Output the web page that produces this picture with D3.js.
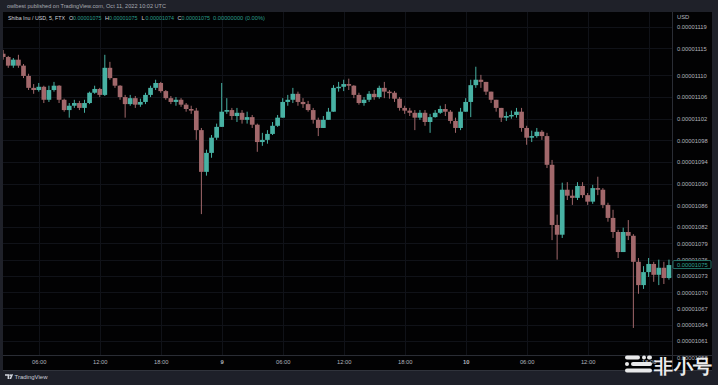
<!DOCTYPE html>
<html>
<head>
<meta charset="utf-8">
<script src="https://cdn.jsdelivr.net/npm/d3@7"></script>
<style>
html, body { margin: 0; padding: 0; background: #1f2129; }
svg { display: block; }
text { font-family: "Liberation Sans", Arial, sans-serif; }
</style>
</head>
<body>
<svg id="chart" width="718" height="385"></svg>
<script>
// prices are in units of 1e-8 USD (1110 -> 0.00001110), 30 minute bars
var firstOpen = 1114.0;
var closes = [
  1113.4, 1111.8, 1112.9, 1111.8, 1109.9, 1107.7, 1107.3, 1107.9, 1105.5, 1107.3,
  1108.1, 1105.5, 1103.6, 1104.4, 1104.9, 1104.0, 1104.9, 1106.8, 1107.5, 1106.4,
  1111.4, 1109.5, 1108.1, 1106.0, 1104.7, 1105.8, 1104.6, 1105.1, 1106.4, 1107.7,
  1108.6, 1107.1, 1105.8, 1105.1, 1105.5, 1104.6, 1103.8, 1103.5, 1099.9, 1092.2,
  1095.7, 1098.5, 1100.5, 1103.3, 1103.6, 1102.5, 1103.1, 1101.8, 1102.3, 1100.9,
  1097.7, 1098.1, 1099.2, 1100.7, 1102.2, 1105.1, 1105.5, 1106.6, 1105.1, 1104.7,
  1103.6, 1101.8, 1100.3, 1101.8, 1103.3, 1107.7, 1107.9, 1108.4, 1108.1, 1106.4,
  1104.9, 1105.5, 1106.6, 1106.0, 1107.7, 1107.0, 1106.8, 1105.7, 1104.0, 1103.5,
  1103.1, 1102.2, 1103.1, 1101.4, 1102.3, 1103.1, 1103.8, 1103.3, 1101.6, 1100.3,
  1103.3, 1105.1, 1108.2, 1109.2, 1108.8, 1107.0, 1105.5, 1104.0, 1102.2, 1102.5,
  1102.7, 1103.3, 1100.3, 1098.5, 1098.8, 1099.6, 1098.8, 1093.5, 1082.4, 1080.6,
  1088.9, 1087.8, 1087.4, 1089.6, 1087.9, 1086.7, 1089.2, 1088.9, 1086.1, 1083.7,
  1081.1, 1077.4, 1081.1, 1080.4, 1075.6, 1071.3, 1073.7, 1075.2, 1073.2, 1074.5,
  1072.6, 1075.0
];
var highs = [
  1114.7, 1113.6, 1113.2, 1113.8, 1112.1, 1110.3, 1108.4, 1108.6, 1108.1, 1108.1,
  1108.8, 1108.2, 1105.7, 1104.9, 1105.5, 1105.3, 1105.5, 1107.0, 1108.1, 1107.7,
  1113.8, 1112.5, 1109.5, 1108.2, 1106.4, 1106.4, 1106.2, 1105.7, 1106.8, 1108.1,
  1109.2, 1108.8, 1107.3, 1106.2, 1106.0, 1105.8, 1104.9, 1104.4, 1104.0, 1100.3,
  1096.3, 1099.0, 1101.1, 1108.6, 1105.8, 1104.0, 1104.0, 1103.6, 1103.3, 1102.7,
  1101.1, 1099.4, 1099.9, 1101.4, 1102.7, 1105.8, 1106.4, 1107.7, 1107.0, 1105.8,
  1105.3, 1104.0, 1102.2, 1102.5, 1104.0, 1108.2, 1108.8, 1109.2, 1109.4, 1108.2,
  1106.8, 1106.0, 1107.1, 1107.3, 1108.1, 1108.8, 1107.3, 1107.1, 1106.0, 1104.4,
  1104.0, 1103.6, 1103.6, 1103.6, 1102.9, 1103.6, 1104.4, 1104.7, 1103.6, 1102.2,
  1104.0, 1105.8, 1109.2, 1111.6, 1110.1, 1108.2, 1106.4, 1105.1, 1104.0, 1103.3,
  1103.5, 1104.0, 1104.0, 1100.7, 1099.8, 1100.3, 1099.9, 1099.4, 1094.4, 1084.3,
  1090.2, 1090.3, 1088.9, 1090.3, 1090.3, 1088.3, 1089.8, 1091.3, 1089.2, 1086.5,
  1085.2, 1081.5, 1081.9, 1083.3, 1080.7, 1076.3, 1074.8, 1076.3, 1075.6, 1076.0,
  1075.6, 1076.0
];
var lows = [
  1112.9, 1111.4, 1111.4, 1111.4, 1109.5, 1107.3, 1106.6, 1107.0, 1104.9, 1105.1,
  1107.0, 1104.9, 1103.3, 1102.2, 1104.0, 1103.6, 1103.1, 1104.7, 1106.6, 1106.0,
  1106.2, 1109.2, 1107.7, 1105.5, 1102.2, 1104.4, 1104.0, 1104.2, 1104.7, 1106.0,
  1107.3, 1106.8, 1105.5, 1104.7, 1104.4, 1104.2, 1103.3, 1102.9, 1098.1, 1084.4,
  1091.5, 1094.8, 1098.1, 1100.7, 1102.9, 1101.8, 1101.4, 1101.1, 1101.1, 1100.3,
  1095.9, 1097.0, 1097.4, 1099.0, 1100.5, 1102.2, 1104.4, 1104.9, 1104.4, 1104.0,
  1103.3, 1101.1, 1098.8, 1100.7, 1101.8, 1103.3, 1107.0, 1107.1, 1107.3, 1105.8,
  1104.6, 1104.4, 1105.1, 1105.5, 1105.7, 1105.8, 1105.7, 1105.1, 1103.5, 1102.9,
  1102.5, 1099.9, 1101.8, 1100.7, 1099.4, 1102.2, 1102.9, 1102.5, 1101.1, 1099.4,
  1099.9, 1103.6, 1102.3, 1107.7, 1107.7, 1106.4, 1104.9, 1103.3, 1101.4, 1101.6,
  1102.0, 1102.2, 1099.6, 1097.2, 1097.7, 1098.5, 1098.1, 1092.9, 1079.6, 1076.0,
  1080.0, 1087.0, 1086.1, 1087.0, 1087.4, 1086.1, 1086.3, 1087.9, 1085.5, 1083.0,
  1080.0, 1076.3, 1078.2, 1079.6, 1063.4, 1069.7, 1070.6, 1072.8, 1071.9, 1071.3,
  1071.5, 1072.3
];
var priceTicks = [1058, 1061, 1064, 1067, 1070, 1073, 1076, 1079, 1082, 1086,
                  1090, 1094, 1098, 1102, 1106, 1110, 1115, 1119];
var lastPrice = 1075;
var startTime = Date.UTC(2022, 9, 8, 2, 30);
var barMinutes = 30;
var headerText = "owlbest published on TradingView.com, Oct 11, 2022 10:02 UTC";
var symbolText = "Shiba Inu / USD, 5, FTX";
var ohlcLabels = ["O", "H", "L", "C"];
var ohlcValues = ["0.00001075", "0.00001075", "0.00001074", "0.00001075"];
var changeText = "0.00000000 (0.00%)";

var width = 718, height = 385;
var plot = {left: 3, right: 672, top: 12, bottom: 355};
var panelRight = 712;
var upColor = "#48b2a4", downColor = "#a2686b";
var axisColor = "#b2b5be", gridColor = "#101218", lineColor = "#2a2d35";

var svg = d3.select("#chart");
var fmtPrice = function(v) { return d3.format(".8f")(v * 1e-8); };

// frame
svg.append("rect").attr("width", width).attr("height", height).attr("fill", "#1f2129");
svg.append("rect")
    .attr("x", plot.left).attr("y", plot.top)
    .attr("width", panelRight - plot.left).attr("height", 370 - plot.top)
    .attr("fill", "#020203");
svg.append("rect").attr("x", 0).attr("y", 370).attr("width", width).attr("height", 15).attr("fill", "#1e2029");
svg.append("line").attr("x1", plot.left).attr("x2", panelRight).attr("y1", 370.5).attr("y2", 370.5).attr("stroke", "#30333b");

svg.append("text")
    .attr("x", 7).attr("y", 8)
    .attr("font-size", 5.2).attr("fill", "#a7aab2")
    .attr("textLength", 159).attr("lengthAdjust", "spacingAndGlyphs")
    .text(headerText);

// scales
var x = d3.scaleUtc()
    .domain([Date.UTC(2022, 9, 8, 2, 29), Date.UTC(2022, 9, 10, 20, 18)])
    .range([plot.left, plot.right]);
var y = d3.scaleLinear()
    .domain([1058.4, 1121.7])
    .range([plot.bottom, plot.top]);

var timeTicks = d3.utcHour.every(6).range(x.domain()[0], x.domain()[1]);

// grid
var grid = svg.append("g");
grid.selectAll(".vg").data(timeTicks).enter().append("line")
    .attr("x1", function(d) { return Math.round(x(d)) + 0.5; })
    .attr("x2", function(d) { return Math.round(x(d)) + 0.5; })
    .attr("y1", plot.top).attr("y2", plot.bottom)
    .attr("stroke", gridColor);
grid.selectAll(".hg").data(priceTicks.filter(function(v) { return y(v) < plot.bottom; })).enter().append("line")
    .attr("x1", plot.left).attr("x2", plot.right)
    .attr("y1", function(d) { return Math.round(y(d)) + 0.5; })
    .attr("y2", function(d) { return Math.round(y(d)) + 0.5; })
    .attr("stroke", gridColor);

// separators
svg.append("line").attr("x1", plot.right + 0.5).attr("x2", plot.right + 0.5)
    .attr("y1", plot.top).attr("y2", 370).attr("stroke", lineColor);
svg.append("line").attr("x1", plot.left).attr("x2", panelRight)
    .attr("y1", plot.bottom + 0.5).attr("y2", plot.bottom + 0.5).attr("stroke", lineColor);

// candles
var bars = closes.map(function(c, i) {
  var o = i ? closes[i - 1] : firstOpen;
  return {
    t: new Date(startTime + i * barMinutes * 60000),
    o: o, c: c,
    h: Math.max(highs[i], o, c),
    l: Math.min(lows[i], o, c)
  };
});
var step = x(new Date(startTime + barMinutes * 60000)) - x(new Date(startTime));
var bw = step * 0.92;

svg.append("clipPath").attr("id", "plotClip").append("rect")
    .attr("x", plot.left).attr("y", plot.top)
    .attr("width", plot.right - plot.left).attr("height", plot.bottom - plot.top);

var candles = svg.append("g").attr("clip-path", "url(#plotClip)")
    .selectAll(".candle").data(bars).enter().append("g");

candles.append("line")
    .attr("x1", function(d) { return x(d.t); })
    .attr("x2", function(d) { return x(d.t); })
    .attr("y1", function(d) { return y(d.h); })
    .attr("y2", function(d) { return y(d.l); })
    .attr("stroke", function(d) { return d.c >= d.o ? upColor : downColor; })
    .attr("stroke-width", 1);

candles.append("rect")
    .attr("x", function(d) { return x(d.t) - bw / 2; })
    .attr("width", bw)
    .attr("y", function(d) { return y(Math.max(d.o, d.c)); })
    .attr("height", function(d) { return Math.max(1.5, Math.abs(y(d.o) - y(d.c))); })
    .attr("fill", function(d) { return d.c >= d.o ? upColor : downColor; });

// price axis
var yAxis = svg.append("g")
    .attr("transform", "translate(677,0)")
    .call(d3.axisRight(y).tickValues(priceTicks).tickSize(0).tickPadding(0).tickFormat(fmtPrice));
yAxis.select(".domain").remove();
yAxis.selectAll("text").attr("fill", axisColor).attr("font-size", 5.8)
    .attr("font-family", "Liberation Sans, Arial, sans-serif");

svg.append("text").attr("x", 677).attr("y", 19)
    .attr("font-size", 5.8).attr("fill", axisColor).text("USD");

// last price marker
var ly = y(lastPrice);
svg.append("rect")
    .attr("x", plot.right + 1).attr("y", ly - 4.5)
    .attr("width", panelRight - plot.right - 2).attr("height", 8)
    .attr("fill", "#020203").attr("stroke", "#2e8f82").attr("stroke-width", 0.8).attr("rx", 1);
svg.append("text").attr("x", 677).attr("y", ly + 2)
    .attr("font-size", 5.8).attr("fill", "#2ea392").text(fmtPrice(lastPrice));

// time axis
var xAxis = svg.append("g")
    .attr("transform", "translate(0,359.5)")
    .call(d3.axisBottom(x).tickValues(timeTicks).tickSize(0).tickPadding(0)
      .tickFormat(function(d) {
        return d.getUTCHours() === 0 ? d3.utcFormat("%-d")(d) : d3.utcFormat("%H:%M")(d);
      }));
xAxis.select(".domain").remove();
xAxis.selectAll("text").attr("fill", axisColor).attr("font-size", 5.8)
    .attr("font-family", "Liberation Sans, Arial, sans-serif")
    .attr("font-weight", function(d) { return d.getUTCHours() === 0 ? "bold" : null; });

// legend
var legend = svg.append("g").attr("font-size", 5.6);
legend.append("text").attr("x", 8).attr("y", 20).attr("fill", "#d1d4dc")
    .attr("textLength", 57).attr("lengthAdjust", "spacingAndGlyphs").text(symbolText);
var ohlcX = [69, 105, 141.5, 177.5];
ohlcLabels.forEach(function(lab, i) {
  legend.append("text").attr("x", ohlcX[i]).attr("y", 20).attr("fill", "#d1d4dc").text(lab);
  legend.append("text").attr("x", ohlcX[i] + 4).attr("y", 20).attr("fill", "#2a9d8c")
      .attr("textLength", 28.5).attr("lengthAdjust", "spacingAndGlyphs").text(ohlcValues[i]);
});
legend.append("text").attr("x", 213).attr("y", 20).attr("fill", "#2a9d8c")
    .attr("textLength", 52).attr("lengthAdjust", "spacingAndGlyphs").text(changeText);

// TradingView logo
var tv = svg.append("g").attr("fill", "#d1d4dc");
tv.append("path").attr("d", "M5,374.2h4.2v4.8h-1.6v-3.3h-2.6z");
tv.append("circle").attr("cx", 10.2).attr("cy", 375.2).attr("r", 0.9);
tv.append("path").attr("d", "M11.4,374.2h1.7l-2,4.8h-1.7z");
svg.append("text").attr("x", 14.5).attr("y", 378.8)
    .attr("font-size", 6).attr("fill", "#c9ccd4").text("TradingView");

// watermark
var wm = svg.append("g").attr("fill", "#e9e9ea");
[[625, 355.5, 15, 4], [642, 355.5, 4, 4], [647, 355.5, 5, 4],
 [625, 362, 4, 4], [631, 362, 21, 4],
 [625, 368.5, 27, 4]].forEach(function(r) {
  wm.append("rect").attr("x", r[0]).attr("y", r[1]).attr("width", r[2]).attr("height", r[3]).attr("rx", 2);
});
svg.append("text").attr("x", 654).attr("y", 373)
    .attr("font-family", "Noto Sans CJK SC").attr("font-weight", "bold")
    .attr("font-size", 19).attr("fill", "#ececed")
    .attr("textLength", 58).text("非小号");
</script>
</body>
</html>
